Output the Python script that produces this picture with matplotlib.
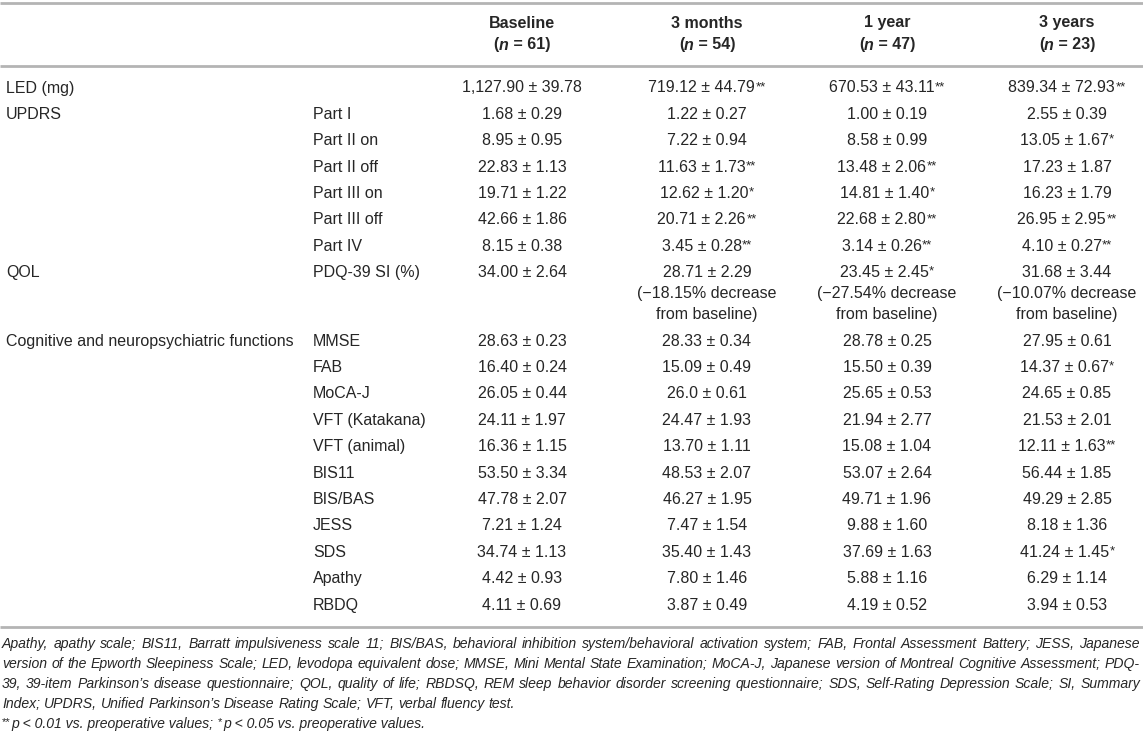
import matplotlib
matplotlib.use("Agg")
import matplotlib.pyplot as plt

plt.rcParams["font.family"] = ["Liberation Sans", "DejaVu Sans"]

# ---- table content ----
visits = ["Baseline", "3 months", "1 year", "3 years"]
n_patients = [61, 54, 47, 23]

groups = ["LED (mg)", "UPDRS", "", "", "", "", "", "QOL",
          "Cognitive and neuropsychiatric functions",
          "", "", "", "", "", "", "", "", "", ""]
items = ["", "Part I", "Part II on", "Part II off", "Part III on", "Part III off",
         "Part IV", "PDQ-39 SI (%)", "MMSE", "FAB", "MoCA-J", "VFT (Katakana)",
         "VFT (animal)", "BIS11", "BIS/BAS", "JESS", "SDS", "Apathy", "RBDQ"]

baseline = ["1,127.90 ± 39.78", "1.68 ± 0.29", "8.95 ± 0.95", "22.83 ± 1.13",
            "19.71 ± 1.22", "42.66 ± 1.86", "8.15 ± 0.38", "34.00 ± 2.64",
            "28.63 ± 0.23", "16.40 ± 0.24", "26.05 ± 0.44", "24.11 ± 1.97",
            "16.36 ± 1.15", "53.50 ± 3.34", "47.78 ± 2.07", "7.21 ± 1.24",
            "34.74 ± 1.13", "4.42 ± 0.93", "4.11 ± 0.69"]
months3 = ["719.12 ± 44.79**", "1.22 ± 0.27", "7.22 ± 0.94", "11.63 ± 1.73**",
           "12.62 ± 1.20*", "20.71 ± 2.26**", "3.45 ± 0.28**",
           "28.71 ± 2.29\n(\u221218.15% decrease\nfrom baseline)",
           "28.33 ± 0.34", "15.09 ± 0.49", "26.0 ± 0.61", "24.47 ± 1.93",
           "13.70 ± 1.11", "48.53 ± 2.07", "46.27 ± 1.95", "7.47 ± 1.54",
           "35.40 ± 1.43", "7.80 ± 1.46", "3.87 ± 0.49"]
year1 = ["670.53 ± 43.11**", "1.00 ± 0.19", "8.58 ± 0.99", "13.48 ± 2.06**",
         "14.81 ± 1.40*", "22.68 ± 2.80**", "3.14 ± 0.26**",
         "23.45 ± 2.45*\n(\u221227.54% decrease\nfrom baseline)",
         "28.78 ± 0.25", "15.50 ± 0.39", "25.65 ± 0.53", "21.94 ± 2.77",
         "15.08 ± 1.04", "53.07 ± 2.64", "49.71 ± 1.96", "9.88 ± 1.60",
         "37.69 ± 1.63", "5.88 ± 1.16", "4.19 ± 0.52"]
years3 = ["839.34 ± 72.93**", "2.55 ± 0.39", "13.05 ± 1.67*", "17.23 ± 1.87",
          "16.23 ± 1.79", "26.95 ± 2.95**", "4.10 ± 0.27**",
          "31.68 ± 3.44\n(\u221210.07% decrease\nfrom baseline)",
          "27.95 ± 0.61", "14.37 ± 0.67*", "24.65 ± 0.85", "21.53 ± 2.01",
          "12.11 ± 1.63**", "56.44 ± 1.85", "49.29 ± 2.85", "8.18 ± 1.36",
          "41.24 ± 1.45*", "6.29 ± 1.14", "3.94 ± 0.53"]

footnotes = [
    "Apathy, apathy scale; BIS11, Barratt impulsiveness scale 11; BIS/BAS, behavioral inhibition system/behavioral activation system; FAB, Frontal Assessment Battery; JESS, Japanese",
    "version of the Epworth Sleepiness Scale; LED, levodopa equivalent dose; MMSE, Mini Mental State Examination; MoCA-J, Japanese version of Montreal Cognitive Assessment; PDQ-",
    "39, 39-item Parkinson\u2019s disease questionnaire; QOL, quality of life; RBDSQ, REM sleep behavior disorder screening questionnaire; SDS, Self-Rating Depression Scale; SI, Summary",
    "Index; UPDRS, Unified Parkinson\u2019s Disease Rating Scale; VFT, verbal fluency test.",
]

# ---- layout (pixels) ----
W, H = 1143, 734
INK = "#262626"
RULE = "#b4b4b4"
FS = 11.5
STAR_FS = 9.5
col_x = [522, 707, 887, 1067]
group_x, item_x = 6, 313
row_pitch, wrap_pitch = 26.4, 21.0

fig = plt.figure(figsize=(W / 100, H / 100), dpi=100)
ax = fig.add_axes([0, 0, 1, 1])
ax.set_xlim(0, W)
ax.set_ylim(H, 0)
ax.axis("off")
renderer = fig.canvas.get_renderer()


def text_width(s, **kw):
    t = ax.text(0, 0, s, **kw)
    w = t.get_window_extent(renderer).width
    t.remove()
    return w


def put_runs(x, y, runs, ha="center"):
    # runs: (text, size, weight, style, dy, gap)
    arts, widths, gaps = [], [], []
    for txt, size, weight, style, dy, gap in runs:
        t = ax.text(0, y + dy, txt, fontsize=size, fontweight=weight,
                    fontstyle=style, color=INK, va="baseline", ha="left")
        arts.append(t)
        widths.append(t.get_window_extent(renderer).width)
        gaps.append(gap)
    total = sum(widths) + sum(gaps)
    x0 = x - total / 2 if ha == "center" else x
    for t, w, g in zip(arts, widths, gaps):
        x0 += g
        t.set_x(x0)
        x0 += w


def value_runs(s):
    core = s.rstrip("*")
    stars = s[len(core):]
    runs = [(core, FS, "normal", "normal", 0, 0)]
    if stars:
        runs.append((stars, STAR_FS, "normal", "normal", -2.5, 0.5))
    return runs


# rules
for yr in (3, 66, 627):
    ax.plot([0, W], [yr, yr], color=RULE, lw=2, solid_capstyle="butt")

# header
for x, name, n in zip(col_x, visits, n_patients):
    put_runs(x, 27.5, [(name, FS, "bold", "normal", 0, 0)])
    put_runs(x, 49.5, [("(", FS, "bold", "normal", 0, 0),
                       ("n", FS, "bold", "italic", 0, 0),
                       (f" = {n})", FS, "bold", "normal", 0, 0)])

# body
columns = [baseline, months3, year1, years3]
y = 87
for i in range(len(items)):
    base = y + 5.5
    if groups[i]:
        put_runs(group_x, base, [(groups[i], FS, "normal", "normal", 0, 0)], ha="left")
    if items[i]:
        put_runs(item_x, base, [(items[i], FS, "normal", "normal", 0, 0)], ha="left")
    nlines = 1
    for x, col in zip(col_x, columns):
        lines = col[i].split("\n")
        nlines = max(nlines, len(lines))
        for k, line in enumerate(lines):
            put_runs(x, base + k * wrap_pitch, value_runs(line))
    y += row_pitch + (nlines - 1) * wrap_pitch

# footnotes (justified like the source)
left, right = 2, 1140
w10 = text_width(footnotes[0], fontsize=10, fontstyle="italic")
FN_FS = 10 * (right - left - 18) / w10
fn_y = 648
space_w = (text_width("a a", fontsize=FN_FS, fontstyle="italic")
           - text_width("aa", fontsize=FN_FS, fontstyle="italic"))
for k, line in enumerate(footnotes):
    yy = fn_y + k * 20
    words = line.split(" ")
    arts, widths = [], []
    for w in words:
        t = ax.text(0, yy, w, fontsize=FN_FS, fontstyle="italic", color=INK,
                    va="baseline", ha="left")
        arts.append(t)
        widths.append(t.get_window_extent(renderer).width)
    if k < len(footnotes) - 1:
        gap = (right - left - sum(widths)) / (len(words) - 1)
    else:
        gap = space_w
    x0 = left
    for t, w in zip(arts, widths):
        t.set_x(x0)
        x0 += w + gap

yy = fn_y + 4 * 20
put_runs(left, yy, [("**", FN_FS * 0.8, "normal", "normal", -2.5, 0),
                    ("p < 0.01 vs. preoperative values;", FN_FS, "normal", "italic", 0, 1),
                    ("*", FN_FS * 0.8, "normal", "normal", -2.5, space_w),
                    ("p < 0.05 vs. preoperative values.", FN_FS, "normal", "italic", 0, 1)],
         ha="left")

fig.savefig("out.png", dpi=100)
